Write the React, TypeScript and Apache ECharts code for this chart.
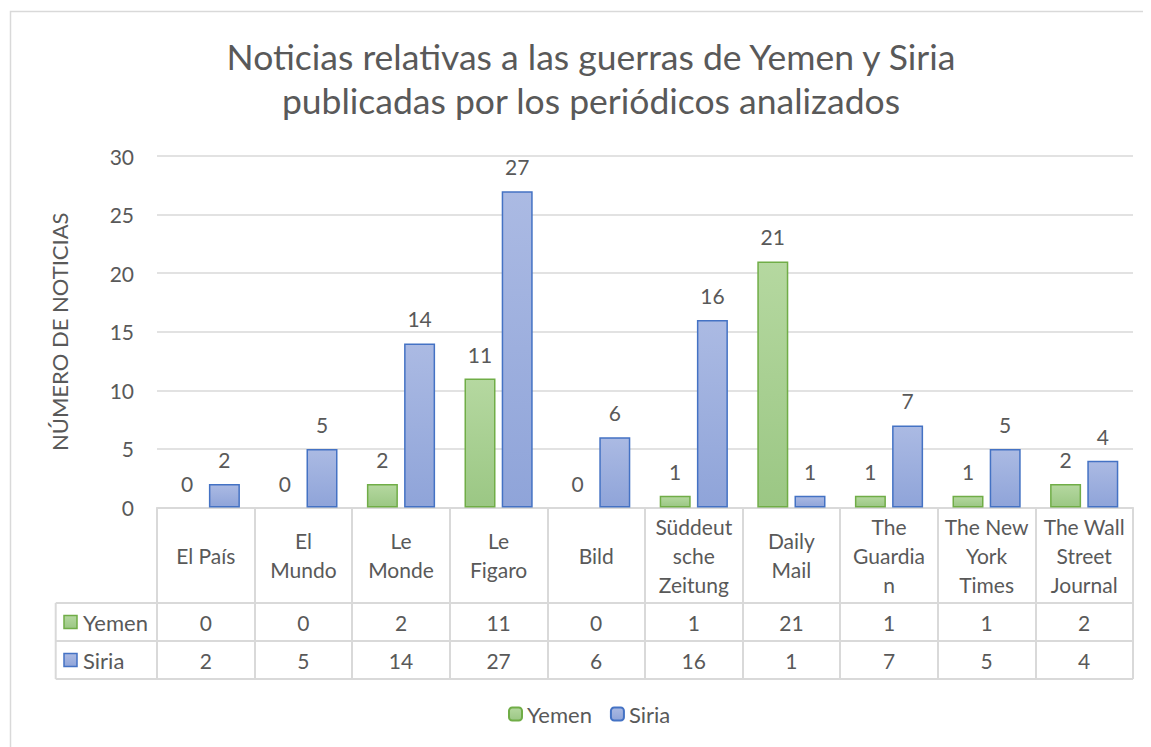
import React, { useEffect, useRef } from "react";
import * as echarts from "echarts";

const titleLines = ["Noticias relativas a las guerras de Yemen y Siria", "publicadas por los periódicos analizados"];
const yAxisName = "NÚMERO DE NOTICIAS";
const categories = [
  "El País",
  "El\nMundo",
  "Le\nMonde",
  "Le\nFigaro",
  "Bild",
  "Süddeut\nsche\nZeitung",
  "Daily\nMail",
  "The\nGuardia\nn",
  "The New\nYork\nTimes",
  "The Wall\nStreet\nJournal",
];
const seriesNames = ["Yemen", "Siria"];
const yemen = [0, 0, 2, 11, 0, 1, 21, 1, 1, 2];
const siria = [2, 5, 14, 27, 6, 16, 1, 7, 5, 4];
const yMin = 0;
const yMax = 30;
const yInterval = 5;

const FONT = "Lato";
const TXT = "#595959";
const LINE = "#d9d9d9";

export default function App() {
  const ref = useRef<HTMLDivElement>(null);
  useEffect(() => {
    if (!ref.current) return;
    const chart = echarts.init(ref.current, null, { renderer: "svg" });

    const gridLeft = 149;
    const gridRight = 1125;
    const gridTop = 148;
    const gridBottomY = 499.5;
    const rowY = [595, 633, 671];
    const tableLeft = 47.7;

    const fills = [
      new echarts.graphic.LinearGradient(0, 0, 0, 1, [
        { offset: 0, color: "#b5d8a0" },
        { offset: 1, color: "#9bc784" },
      ]),
      new echarts.graphic.LinearGradient(0, 0, 0, 1, [
        { offset: 0, color: "#abbae3" },
        { offset: 1, color: "#8fa4d9" },
      ]),
    ];
    const borders = ["#70ad47", "#4472c4"];
    const values = [yemen, siria];

    const graphic: any[] = [
      {
        type: "rect",
        shape: { x: 2.5, y: 3.5, width: 1170, height: 780 },
        style: { fill: "none", stroke: LINE, lineWidth: 1.5 },
        silent: true,
      },
    ];
    rowY.forEach((y) => {
      graphic.push({
        type: "line",
        shape: { x1: tableLeft, y1: y, x2: gridRight, y2: y },
        style: { stroke: LINE, lineWidth: 2 },
        silent: true,
      });
    });
    graphic.push({
      type: "line",
      shape: { x1: tableLeft, y1: rowY[0], x2: tableLeft, y2: rowY[2] },
      style: { stroke: LINE, lineWidth: 2 },
      silent: true,
    });
    seriesNames.forEach((name, i) => {
      const cy = (rowY[i] + rowY[i + 1]) / 2;
      graphic.push({
        type: "rect",
        shape: { x: 56, y: cy - 6.5, width: 13, height: 13 },
        style: { fill: fills[i], stroke: borders[i], lineWidth: 1.5 },
        silent: true,
      });
      graphic.push({
        type: "text",
        x: 75,
        y: cy,
        style: {
          text: name,
          fill: TXT,
          font: `22px ${FONT}`,
          verticalAlign: "middle",
          align: "left",
        },
        silent: true,
      });
    });

    const tableAxis = (data: string[], margin: number) => ({
      type: "category",
      gridIndex: 0,
      position: "bottom",
      data,
      axisLine: { show: false },
      axisTick: { show: false },
      splitLine: { show: false },
      axisLabel: {
        interval: 0,
        margin,
        color: TXT,
        fontFamily: FONT,
        fontSize: 21,
        verticalAlign: "middle",
      },
    });

    chart.setOption({
      animation: false,
      title: {
        text: titleLines.join("\n"),
        left: 578,
        top: 21,
        textAlign: "center",
        textStyle: {
          color: TXT,
          fontFamily: FONT,
          fontSize: 35.5,
          fontWeight: "normal",
          lineHeight: 44,
        },
      },
      legend: {
        data: seriesNames,
        left: 495,
        top: 689,
        itemWidth: 13,
        itemHeight: 13,
        itemGap: 18,
        textStyle: { color: TXT, fontFamily: FONT, fontSize: 22, lineHeight: 24, padding: [0, 0, 0, 0] },
      },
      grid: {
        left: gridLeft,
        right: 1143 - gridRight,
        top: gridTop,
        bottom: 739 - gridBottomY,
        containLabel: false,
      },
      xAxis: [
        {
          type: "category",
          data: categories,
          axisLine: { show: true, lineStyle: { color: LINE, width: 2 } },
          axisTick: {
            show: true,
            interval: 0,
            alignWithLabel: false,
            inside: false,
            length: rowY[2] - gridBottomY,
            lineStyle: { color: LINE, width: 2 },
          },
          axisLabel: {
            interval: 0,
            margin: 47.5,
            color: TXT,
            fontFamily: FONT,
            fontSize: 21,
            lineHeight: 29,
            verticalAlign: "middle",
            align: "center",
          },
        },
        tableAxis(yemen.map(String), 114.5),
        tableAxis(siria.map(String), 152.5),
      ],
      yAxis: {
        type: "value",
        min: yMin,
        max: yMax,
        interval: yInterval,
        name: yAxisName,
        nameLocation: "middle",
        nameRotate: 90,
        nameGap: 87,
        nameTextStyle: { color: TXT, fontFamily: FONT, fontSize: 22 },
        axisLine: { show: false },
        axisTick: { show: false },
        axisLabel: { color: TXT, fontFamily: FONT, fontSize: 21, margin: 23 },
        splitLine: { lineStyle: { color: LINE, width: 1.5 } },
      },
      series: seriesNames.map((name, i) => ({
        name,
        type: "bar",
        xAxisIndex: 0,
        data: values[i].map((v) => (v === 0 ? { value: v, itemStyle: { borderWidth: 0 } } : v)),
        barWidth: 31,
        barGap: "20%",
        itemStyle: { color: fills[i], borderColor: borders[i], borderWidth: 1.5 },
        label: {
          show: true,
          position: "top",
          distance: 14,
          color: TXT,
          fontFamily: FONT,
          fontSize: 21,
        },
      })),
      graphic,
    });
    return () => chart.dispose();
  }, []);
  return <div ref={ref} style={{ width: 1143, height: 739 }} />;
}
